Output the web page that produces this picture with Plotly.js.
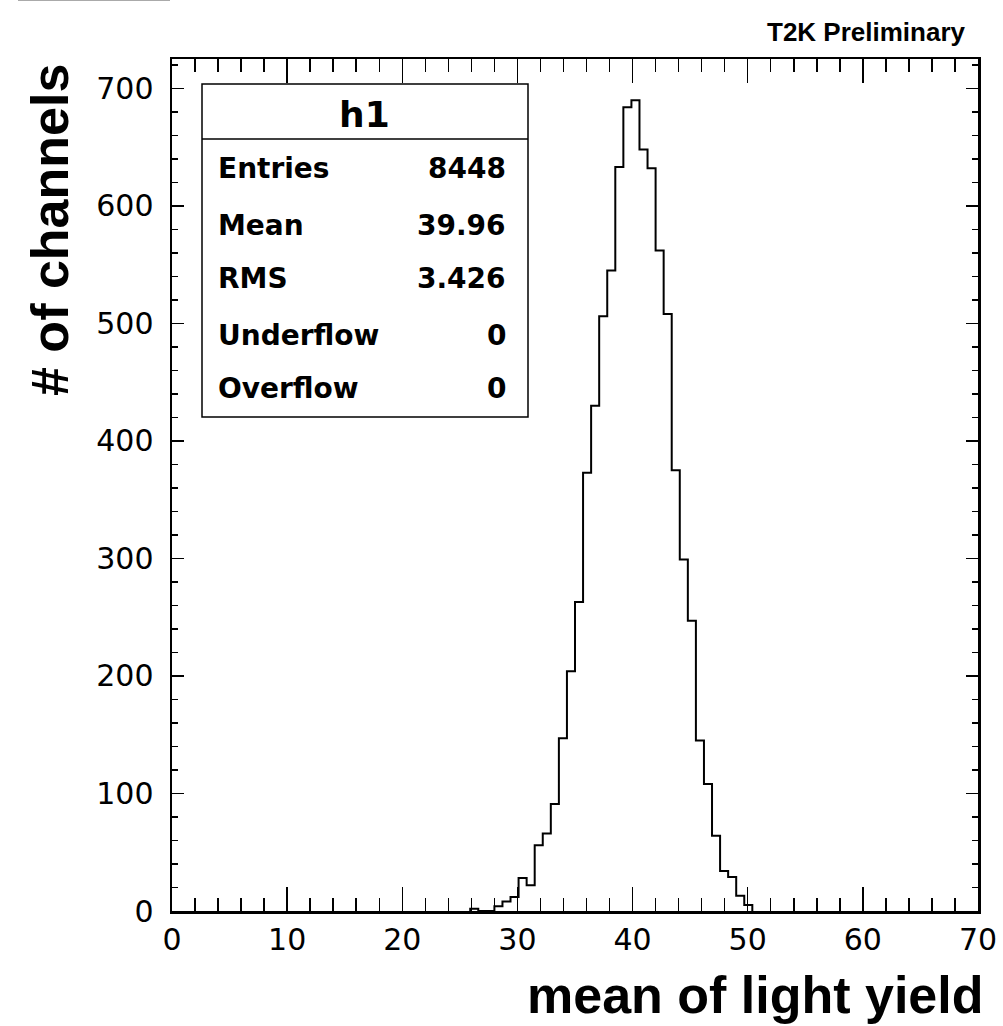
<!DOCTYPE html>
<html>
<head>
<meta charset="utf-8">
<script src="https://cdn.plot.ly/plotly-3.0.1.min.js"></script>
<style>html,body{margin:0;padding:0;background:#fff;}#chart{width:1003px;height:1026px;}</style>
</head>
<body>
<div id="chart"></div>
<script>
// ---- data (histogram h1: 100 bins on [0,70], bin width 0.7) ----
var binWidth = 0.7;
var firstBinLow = 25.9;      // low edge of first non-empty bin shown
var counts = [2, 0, 0, 4, 8, 12, 28, 22, 56, 66, 91, 147, 204, 263, 373, 430, 506, 545,
              633, 684, 690, 648, 632, 562, 508, 375, 299, 247, 145, 108, 64, 34, 29, 13, 5];
var statLabels = ["Entries", "Mean", "RMS", "Underflow", "Overflow"];
var statValues = ["8448", "39.96", "3.426", "0", "0"];
var histName = "h1";
var xTitle = "mean of light yield";
var yTitle = "# of channels";
var topLabel = "T2K Preliminary";

// ---- build step outline ----
var xs = [firstBinLow], ys = [0];
for (var i = 0; i < counts.length; i++) {
  xs.push(firstBinLow + i * binWidth);
  ys.push(counts[i]);
}
xs.push(firstBinLow + counts.length * binWidth);
ys.push(0);

var trace = {
  x: xs, y: ys, type: 'scatter', mode: 'lines',
  line: {shape: 'hv', color: '#000', width: 2},
  hoverinfo: 'skip', showlegend: false
};

// pixel -> paper helpers (plot area 172..978 x, 59..911 y)
var L = 172, R = 978, T = 59, B = 911;
function px(x) { return (x - L) / (R - L); }
function py(y) { return (B - y) / (B - T); }

var annotations = [];
annotations.push({text: xTitle, xref: 'paper', yref: 'paper', x: px(986), y: py(995),
  xanchor: 'right', yanchor: 'middle', showarrow: false,
  font: {family: 'Liberation Sans, Arial, sans-serif', size: 52, color: '#000', weight: 'bold'}});
annotations.push({text: yTitle, xref: 'paper', yref: 'paper', x: px(50), y: py(230),
  xanchor: 'center', yanchor: 'middle', textangle: -90, showarrow: false,
  font: {family: 'Liberation Sans, Arial, sans-serif', size: 52, color: '#000', weight: 'bold'}});
annotations.push({text: topLabel, xref: 'paper', yref: 'paper', x: px(968), y: py(32),
  xanchor: 'right', yanchor: 'middle', showarrow: false,
  font: {family: 'Liberation Sans, Arial, sans-serif', size: 26, color: '#000', weight: 'bold'}});
annotations.push({text: histName, xref: 'paper', yref: 'paper', x: px(364), y: py(115),
  xanchor: 'center', yanchor: 'middle', showarrow: false,
  font: {family: 'DejaVu Sans, sans-serif', size: 36, color: '#000', weight: 'bold'}});
var baselines = [178, 235, 288, 345, 398];
for (var k = 0; k < statLabels.length; k++) {
  annotations.push({text: statLabels[k], xref: 'paper', yref: 'paper', x: px(216), y: py(baselines[k] - 10),
    xanchor: 'left', yanchor: 'middle', showarrow: false,
    font: {family: 'DejaVu Sans, sans-serif', size: 28, color: '#000', weight: 'bold'}});
  annotations.push({text: statValues[k], xref: 'paper', yref: 'paper', x: px(508), y: py(baselines[k] - 10),
    xanchor: 'right', yanchor: 'middle', showarrow: false,
    font: {family: 'DejaVu Sans, sans-serif', size: 28, color: '#000', weight: 'bold'}});
}

var shapes = [
  {type: 'rect', xref: 'paper', yref: 'paper', x0: px(202), x1: px(528), y0: py(417), y1: py(84),
   line: {color: '#000', width: 1.5}, fillcolor: '#fff', layer: 'above'},
  {type: 'line', xref: 'paper', yref: 'paper', x0: px(202), x1: px(528), y0: py(139), y1: py(139),
   line: {color: '#000', width: 1.5}, layer: 'above'},
  {type: 'line', xref: 'paper', yref: 'paper', x0: px(18), x1: px(170), y0: py(0.5), y1: py(0.5),
   line: {color: '#aaaaaa', width: 1}, layer: 'above'}
];

var tickFont = {family: 'DejaVu Sans, sans-serif', size: 30, color: '#000'};

var layout = {
  width: 1003, height: 1026,
  margin: {l: L, r: 1003 - R, t: T, b: 1026 - B, pad: 0},
  paper_bgcolor: '#fff', plot_bgcolor: '#fff',
  showlegend: false,
  xaxis: {
    range: [0, 70], dtick: 10, tick0: 0, ticks: 'inside', ticklen: 24, tickwidth: 1.5, tickcolor: '#000',
    showline: true, linecolor: '#000', linewidth: 2.5, mirror: 'allticks', showgrid: false, zeroline: false,
    tickfont: tickFont, ticklabelstandoff: 0,
    minor: {dtick: 2, ticks: 'inside', ticklen: 13, tickwidth: 1.5, tickcolor: '#000', showgrid: false}
  },
  yaxis: {
    range: [0, 725], dtick: 100, tick0: 0, ticks: 'inside', ticklen: 12, tickwidth: 1.5, tickcolor: '#000',
    showline: true, linecolor: '#000', linewidth: 2.5, mirror: 'allticks', showgrid: false, zeroline: false,
    tickfont: tickFont, ticklabelstandoff: 10,
    minor: {dtick: 20, ticks: 'inside', ticklen: 6, tickwidth: 1.5, tickcolor: '#000', showgrid: false}
  },
  annotations: annotations,
  shapes: shapes
};

Plotly.newPlot('chart', [trace], layout, {staticPlot: true, displayModeBar: false});
</script>
</body>
</html>
